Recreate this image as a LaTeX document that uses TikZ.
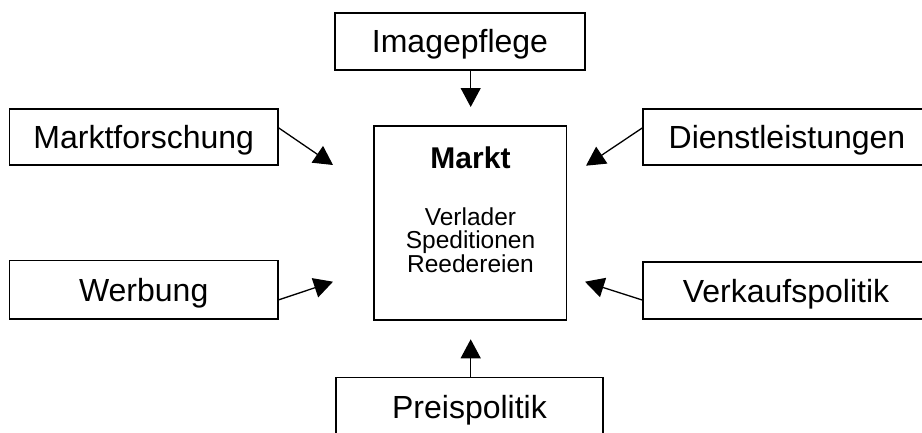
\documentclass[tikz,border=0pt]{standalone}
\usepackage{fontspec}
\setmainfont{Liberation Sans}
\usetikzlibrary{arrows.meta}
\begin{document}
\begin{tikzpicture}[x=1pt,y=-1pt,
  box/.style={draw, line width=1.6pt, rectangle, inner sep=0pt,
    font=\fontsize{32}{38}\selectfont, text height=23pt, text depth=0pt},
  small/.style={font=\fontsize{24.5}{29}\selectfont, anchor=base, inner sep=0pt},
  conn/.style={line width=1.3pt, -{Triangle[length=19pt,width=20pt]}}]
\useasboundingbox (0,0) rectangle (922,432);
\node[box, minimum width=250pt, minimum height=57pt] (img) at (460,41.3) {Imagepflege};
\node[box, minimum width=268.7pt, minimum height=56pt] (mf) at (143.7,137) {Marktforschung};
\node[box, minimum width=288pt, minimum height=56pt] (dl) at (787,137) {Dienstleistungen};
\node[box, minimum width=268.7pt, minimum height=58.3pt] (wb) at (143.7,289.8) {Werbung};
\node[box, minimum width=286pt, minimum height=57pt] (vk) at (786,290.5) {Verkaufspolitik};
\node[box, minimum width=267pt, minimum height=60pt] (pp) at (469.5,407.3) {Preispolitik};
\node[draw, line width=1.6pt, minimum width=192.7pt, minimum height=194pt, inner sep=0pt] (markt) at (470.3,223) {};
\node[font=\bfseries\fontsize{30}{36}\selectfont, anchor=base, inner sep=0pt] (mtitle) at (470.5,168) {Markt};
\node[small] (l1) at (470.5,225) {Verlader};
\node[small] (l2) at (470.5,248.5) {Speditionen};
\node[small] (l3) at (470.5,272) {Reedereien};
\coordinate (t1) at (470.7,107);
\coordinate (t2) at (333,165);
\coordinate (t3) at (586,165.7);
\coordinate (t4) at (333,281.7);
\coordinate (t5) at (585,281.7);
\coordinate (t6) at (470.7,339.3);
\draw[conn] (img.south -| t1) -- (t1);
\draw[conn] ([yshift=9pt]mf.east) -- (t2);
\draw[conn] ([yshift=9pt]dl.west) -- (t3);
\draw[conn] ([yshift=-10pt]wb.east) -- (t4);
\draw[conn] ([yshift=-9.5pt]vk.west) -- (t5);
\draw[conn] (pp.north -| t6) -- (t6);
\end{tikzpicture}
\end{document}
